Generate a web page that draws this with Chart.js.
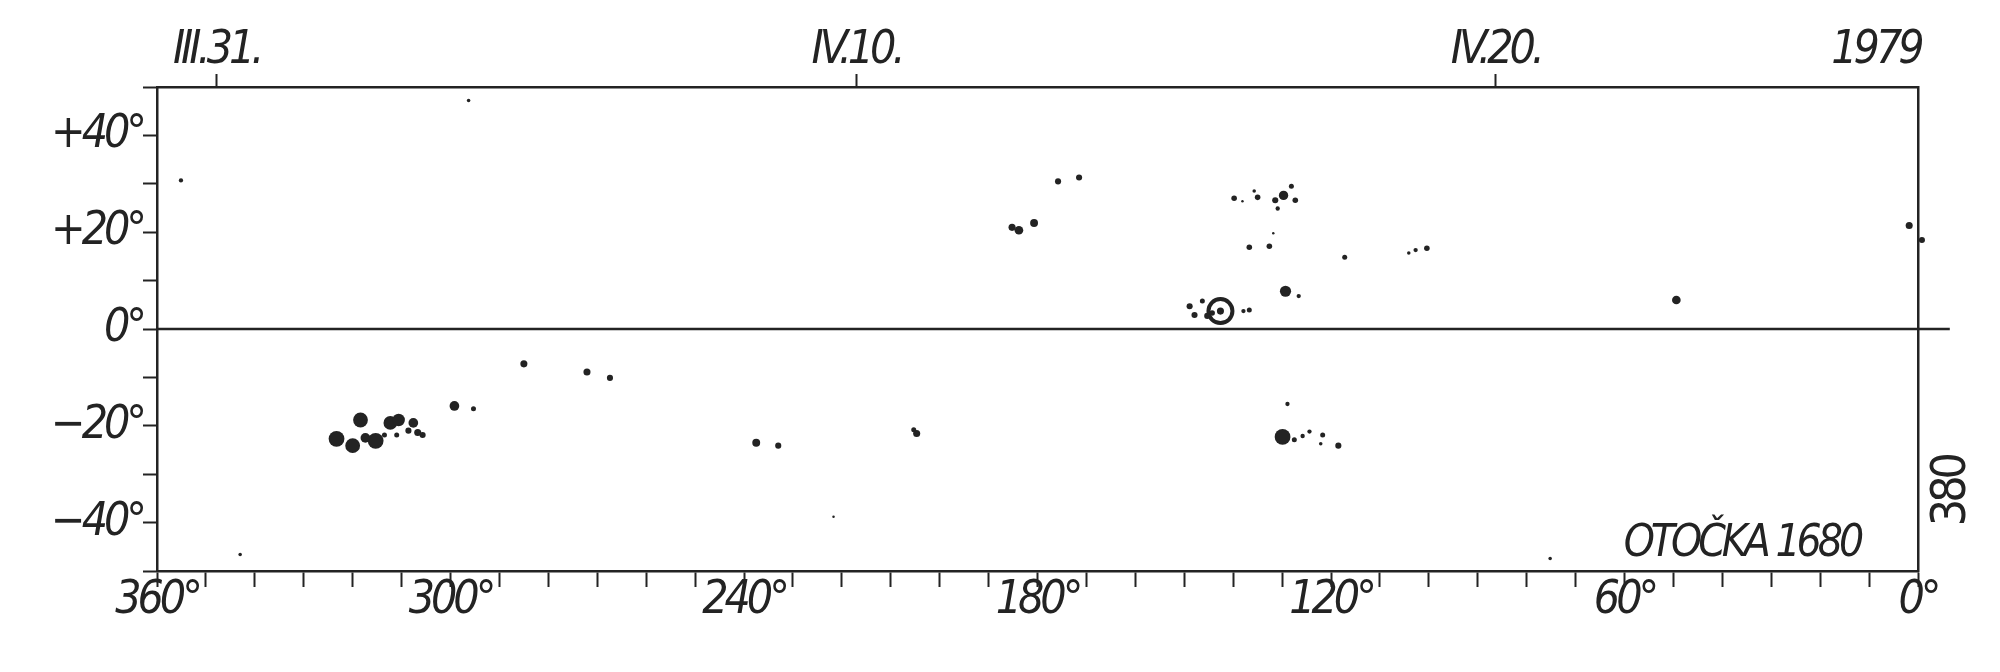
<!DOCTYPE html>
<html>
<head>
<meta charset="utf-8">
<title>OTOČKA 1680</title>
<script src="https://cdn.jsdelivr.net/npm/chart.js@4.4.1/dist/chart.umd.min.js"></script>
<style>
  html, body { margin: 0; padding: 0; background: #fff; }
  #wrap { width: 2000px; height: 672px; }
</style>
</head>
<body>
<div id="wrap"><canvas id="chart" width="2000" height="672"></canvas></div>
<script>
// heliografická délka (osa x, obráceně) a šířka (osa y)
const lonTicks = [360, 300, 240, 180, 120, 60, 0];
const latTicks = [40, 20, 0, -20, -40];

// data otáčky – horní osa
const dateLabels = ['III.31.', 'IV.10.', 'IV.20.', '1979'];
const dateLon = [347.8, 217.0, 86.3, 8.6];

// skvrny: délka, šířka, odhad plochy
const spotLon = [
  355.1, 296.3, 343.0, 221.7, 75.2,
  323.3, 318.4, 320.0, 315.3, 317.4, 312.3, 310.6, 307.6, 306.7, 308.6, 305.7, 311.0, 313.5,
  299.2, 295.3, 285.0, 272.1, 267.4,
  237.5, 233.0, 204.7, 205.3,
  128.9, 129.9, 127.5, 125.8, 124.4, 121.7, 122.1, 118.5,
  183.8, 185.2, 180.7, 175.8, 171.5,
  139.8, 138.1, 135.0, 135.7, 131.4, 129.7, 128.1, 127.3, 130.9,
  136.7, 132.6, 131.8, 117.2, 104.1, 102.7, 100.4,
  129.3, 126.6,
  148.9, 146.3, 147.9, 145.3, 142.6, 144.3, 136.7, 137.9,
  49.4,
  1.8, -0.8, -1.8
];
const spotLat = [
  30.7, 47.2, -46.6, -38.8, -47.4,
  -22.7, -18.8, -24.1, -23.1, -22.5, -19.4, -18.8, -19.4, -21.4, -21.0, -21.9, -21.9, -21.9,
  -15.9, -16.5, -7.2, -8.9, -10.1,
  -23.5, -24.1, -21.6, -20.8,
  -15.5, -22.3, -22.9, -22.1, -21.2, -21.9, -23.7, -24.1,
  20.4, 21.0, 21.9, 30.5, 31.3,
  27.0, 26.4, 27.2, 28.5, 26.6, 27.6, 29.5, 26.6, 24.9,
  16.9, 17.1, 19.8, 14.8, 15.7, 16.3, 16.7,
  7.8, 6.8,
  4.7, 5.8, 2.9, 2.7, 3.7, 3.3, 3.9, 3.7,
  6.0,
  21.4, 18.4, 20.8
];
const spotArea = [
  3, 2, 2, 1, 2,
  40, 35, 35, 40, 15, 30, 25, 15, 8, 6, 6, 4, 4,
  15, 4, 8, 8, 6,
  10, 6, 8, 4,
  3, 40, 4, 3, 3, 4, 2, 6,
  12, 8, 10, 6, 6,
  5, 1, 5, 2, 6, 14, 4, 5, 3,
  5, 5, 1, 4, 2, 3, 5,
  20, 3,
  6, 4, 6, 6, 8, 5, 4, 3,
  12,
  8, 6, 5
];

// obrys penumbry u rovníku
const ringLon = [142.6];
const ringLat = [3.7];

// rovník – přesahuje pravý okraj
const equatorLon = [360, -6.5];

const ink = '#232323';
const handFont = "'Liberation Sans Narrow', 'DejaVu Sans Condensed', 'DejaVu Sans', sans-serif";

const spots = spotLon.map((lon, i) => ({ x: lon, y: spotLat[i], a: spotArea[i] }));
const rings = ringLon.map((lon, i) => ({ x: lon, y: ringLat[i] }));
const equator = equatorLon.map(lon => ({ x: lon, y: 0 }));

// užší ručně psané písmo
const narrowText = {
  id: 'narrowText',
  beforeDraw(chart) {
    chart.ctx.letterSpacing = '-4px';
  }
};

// popisky uvnitř a vpravo od grafu
const notesPlugin = {
  id: 'notes',
  afterDraw(chart) {
    const c = chart.ctx;
    const xs = chart.scales.x, ys = chart.scales.y;
    c.save();
    c.fillStyle = ink;
    c.font = 'italic 44px ' + handFont;
    c.textAlign = 'center';
    c.textBaseline = 'middle';
    c.fillText('OTOČKA 1680', xs.getPixelForValue(36), ys.getPixelForValue(-44.5));
    c.restore();

    c.save();
    c.fillStyle = ink;
    c.font = '48px ' + handFont;
    c.textAlign = 'center';
    c.textBaseline = 'middle';
    c.translate(chart.chartArea.right + 35, ys.getPixelForValue(-33.5));
    c.rotate(-Math.PI / 2);
    c.fillText('380', 0, 0);
    c.restore();
  }
};

const tickFont = { family: handFont, size: 46, style: 'italic' };

new Chart(document.getElementById('chart').getContext('2d'), {
  type: 'scatter',
  data: {
    datasets: [
      {
        type: 'line',
        data: equator,
        borderColor: ink,
        borderWidth: 2.5,
        pointRadius: 0,
        clip: false,
      },
      {
        data: spots,
        backgroundColor: ink,
        borderWidth: 0,
        pointRadius: ctx => ctx.raw ? Math.sqrt(ctx.raw.a) * 1.25 : 2,
        clip: false,
      },
      {
        data: rings,
        backgroundColor: 'rgba(0,0,0,0)',
        borderColor: ink,
        borderWidth: 4,
        pointRadius: 12,
      }
    ],
  },
  options: {
    responsive: false,
    animation: false,
    layout: { padding: 0 },
    plugins: {
      legend: { display: false },
      tooltip: { enabled: false },
    },
    scales: {
      x: {
        type: 'linear',
        position: 'bottom',
        reverse: true,
        min: 0,
        max: 360,
        afterFit: s => { s.height = 101; },
        ticks: {
          stepSize: 10,
          autoSkip: false,
          maxRotation: 0,
          padding: -14,
          color: ink,
          font: tickFont,
          callback: v => lonTicks.includes(v) ? v + '°' : '',
        },
        grid: { drawOnChartArea: false, tickLength: 16, tickWidth: 2, tickColor: ink },
        border: { color: ink, width: 2.5 },
      },
      xTop: {
        type: 'linear',
        position: 'top',
        reverse: true,
        min: 0,
        max: 360,
        afterFit: s => { s.height = 87; },
        afterBuildTicks: s => { s.ticks = dateLon.map(v => ({ value: v })); },
        ticks: {
          autoSkip: false,
          maxRotation: 0,
          padding: -5,
          color: ink,
          font: tickFont,
          callback: (v, i) => dateLabels[i],
        },
        grid: {
          drawOnChartArea: false,
          tickLength: 13,
          tickWidth: 2,
          tickColor: c => c.index === 3 ? 'rgba(0,0,0,0)' : ink,
        },
        border: { color: ink, width: 2.5 },
      },
      y: {
        type: 'linear',
        position: 'left',
        min: -50,
        max: 50,
        afterFit: s => { s.width = 157; },
        ticks: {
          stepSize: 10,
          autoSkip: false,
          padding: 0,
          color: ink,
          font: tickFont,
          callback: v => latTicks.includes(v) ? (v > 0 ? '+' + v : v < 0 ? '−' + (-v) : v) + '°' : '',
        },
        grid: { drawOnChartArea: false, tickLength: 14, tickWidth: 2, tickColor: ink },
        border: { color: ink, width: 2.5 },
      },
      yRight: {
        type: 'linear',
        position: 'right',
        min: -50,
        max: 50,
        afterFit: s => { s.width = 82; },
        ticks: { display: false },
        grid: { drawOnChartArea: false, drawTicks: false },
        border: { color: ink, width: 2.5 },
      },
    },
  },
  plugins: [narrowText, notesPlugin],
});
</script>
</body>
</html>
